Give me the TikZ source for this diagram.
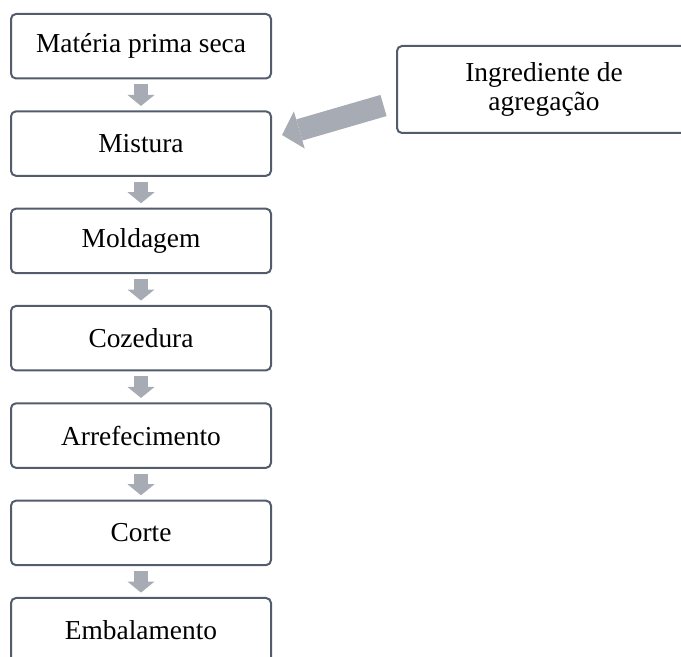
\documentclass[tikz,border=0pt]{standalone}
\usepackage{fontspec}
\setmainfont{Liberation Serif}
\usetikzlibrary{arrows.meta}
\definecolor{boxline}{RGB}{82,92,108}
\definecolor{flowgrey}{RGB}{167,171,179}
\begin{document}
\begin{tikzpicture}[x=0.5pt, y=-0.5pt,
    stage/.style={draw=boxline, line width=1pt, rounded corners=2.5pt, fill=white,
      minimum width=130pt, minimum height=32.25pt, inner sep=0pt,
      align=center, font=\fontsize{13.7}{14.5}\selectfont},
    flow/.style={draw=flowgrey, line width=7pt, shorten <=2.5pt, shorten >=2.2pt,
      -{Triangle[width=13.5pt, length=5.5pt, line width=0pt]}},
    feed/.style={draw=flowgrey, line width=11pt,
      -{Triangle[width=19.3pt, length=9pt, line width=0pt]}}]
            \clip (0, 0) rectangle (681, 657);
            \useasboundingbox (0, 0) rectangle (681, 657);

            \node[stage] (seca) at (141, 46.25) {Matéria prima seca};
            \node[stage] (mistura) at (141, 143.6) {Mistura};
            \node[stage] (moldagem) at (141, 240.9) {Moldagem};
            \node[stage] (cozedura) at (141, 338.2) {Cozedura};
            \node[stage] (arrefecimento) at (141, 435.6) {Arrefecimento};
            \node[stage] (corte) at (141, 532.9) {Corte};
            \node[stage] (embalamento) at (141, 630.25) {Embalamento};

            \node[stage, minimum width=147pt, minimum height=43.5pt] (ingrediente) at (544, 89.5) {Ingrediente de\\agregação};

            % setas do fluxo principal
            \draw[flow] (seca) -- (mistura);
            \draw[flow] (mistura) -- (moldagem);
            \draw[flow] (moldagem) -- (cozedura);
            \draw[flow] (cozedura) -- (arrefecimento);
            \draw[flow] (arrefecimento) -- (corte);
            \draw[flow] (corte) -- (embalamento);

            % entrada lateral
            \coordinate (feedtail) at (383.5, 105.5);
            \coordinate (feedtip) at (282, 135);
            \draw[feed] (feedtail) -- (feedtip);
        \end{tikzpicture}
\end{document}
